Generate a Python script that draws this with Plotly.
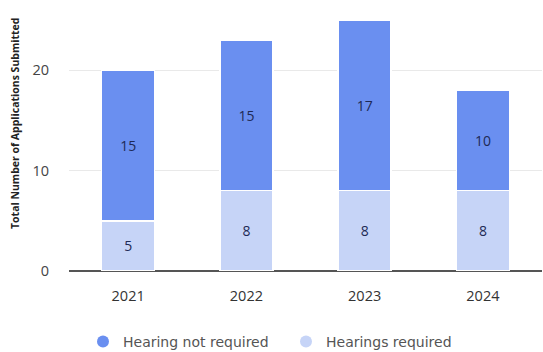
import plotly.graph_objects as go

years = ["2021", "2022", "2023", "2024"]
hearings_required = [5, 8, 8, 8]
hearing_not_required = [15, 15, 17, 10]
series_names = ["Hearing not required", "Hearings required"]
y_ticks = [0, 10, 20]

dark = "#6a8ff0"
light = "#c6d4f7"
txt = "#1e2a55"
font = "Open Sans"

fig = go.Figure()
fig.add_trace(go.Bar(
    x=years, y=hearings_required, name=series_names[1],
    marker=dict(color=light, line=dict(color="white", width=1.5)),
    text=hearings_required, textposition="inside", insidetextanchor="middle",
    textfont=dict(color=txt, size=14, family=font), showlegend=False,
))
fig.add_trace(go.Bar(
    x=years, y=hearing_not_required, name=series_names[0],
    marker=dict(color=dark, line=dict(color="white", width=1.5)),
    text=hearing_not_required, textposition="inside", insidetextanchor="middle",
    textfont=dict(color=txt, size=14, family=font), showlegend=False,
))
# legend entries with circular markers
fig.add_trace(go.Scatter(x=[None], y=[None], mode="markers", name=series_names[0],
                         marker=dict(color=dark, size=19, symbol="circle")))
fig.add_trace(go.Scatter(x=[None], y=[None], mode="markers", name=series_names[1],
                         marker=dict(color=light, size=19, symbol="circle")))

plot_l, plot_r, plot_t, plot_b = 69, 542, 10, 271
W, H = 543, 352
fig.update_layout(
    width=W, height=H,
    margin=dict(l=plot_l, r=W - plot_r, t=plot_t, b=H - plot_b, autoexpand=False),
    barmode="stack", bargap=0.55,
    plot_bgcolor="white", paper_bgcolor="white",
    font=dict(family=font, color="#333"),
    showlegend=True,
    legend=dict(orientation="h", traceorder="normal",
                x=(83 - plot_l) / (plot_r - plot_l), xanchor="left",
                y=-(342 - plot_b) / (plot_b - plot_t), yanchor="middle",
                font=dict(size=14, color="#555", family="DejaVu Sans"),
                itemsizing="constant", entrywidth=158, entrywidthmode="pixels"),
    xaxis=dict(type="category", showgrid=False, showline=False, ticks="outside",
               ticklen=12, tickcolor="rgba(0,0,0,0)",
               tickfont=dict(size=14.5, color="#333", family=font)),
    yaxis=dict(range=[0, 26], tickvals=y_ticks, showgrid=True, gridcolor="#e9e9e9",
               gridwidth=1, zeroline=True, zerolinecolor="#555", zerolinewidth=2,
               showline=False, ticks="outside", ticklen=16, tickcolor="rgba(0,0,0,0)",
               tickfont=dict(size=14.5, color="#444", family=font)),
)
fig.add_annotation(
    text="<b>Total Number of Applications Submitted</b>", textangle=-90,
    xref="paper", yref="paper", x=(15 - plot_l) / (plot_r - plot_l), xanchor="center",
    y=(plot_b - 124) / (plot_b - plot_t), yanchor="middle", showarrow=False,
    font=dict(size=10.5, color="#222", family=font),
)
fig.write_html("out.html", config={"displayModeBar": False},
               post_script="document.body.style.margin='0';")
